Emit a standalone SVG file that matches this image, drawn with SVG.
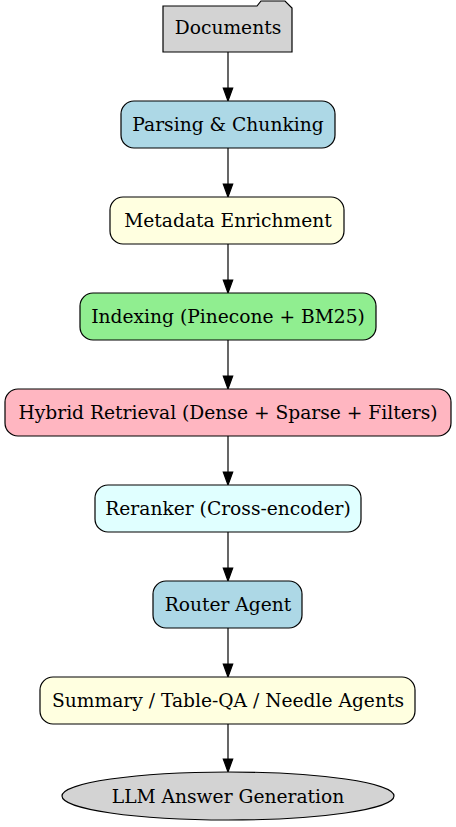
<svg xmlns="http://www.w3.org/2000/svg" width="456" height="827" viewBox="0 0 456 827">
<defs>
<style>
.n{stroke:#000;stroke-width:1.2}
.t{font-family:"DejaVu Serif",serif;font-size:18.67px;fill:#000;text-anchor:middle}
.e{stroke:#000;stroke-width:1.2;fill:none}
.a{fill:#000;stroke:#000;stroke-width:1.2}
</style>
</defs>
<rect width="456" height="827" fill="#fff"/>
<g id="edges">
<line class="e" x1="228" y1="52" x2="228" y2="88"/><polygon class="a" points="223.3,88 232.7,88 228,101"/>
<line class="e" x1="228" y1="148" x2="228" y2="184"/><polygon class="a" points="223.3,184 232.7,184 228,197"/>
<line class="e" x1="228" y1="244" x2="228" y2="280"/><polygon class="a" points="223.3,280 232.7,280 228,293"/>
<line class="e" x1="228" y1="340" x2="228" y2="376"/><polygon class="a" points="223.3,376 232.7,376 228,389"/>
<line class="e" x1="228" y1="436" x2="228" y2="472"/><polygon class="a" points="223.3,472 232.7,472 228,485"/>
<line class="e" x1="228" y1="532" x2="228" y2="568"/><polygon class="a" points="223.3,568 232.7,568 228,581"/>
<line class="e" x1="228" y1="628" x2="228" y2="664"/><polygon class="a" points="223.3,664 232.7,664 228,677"/>
<line class="e" x1="228" y1="724" x2="228" y2="759"/><polygon class="a" points="223.3,759 232.7,759 228,772"/>
</g>
<g id="documents">
<path class="n" fill="#d3d3d3" d="M163,6 L257,6 L261,1 L285,1 L292,8 L292,52 L163,52 Z"/>
<text class="t" x="228" y="34">Documents</text>
</g>
<g id="parsing">
<rect class="n" fill="#add8e6" x="121" y="101" width="214" height="47" rx="13"/>
<text class="t" x="228" y="130.5">Parsing &amp; Chunking</text>
</g>
<g id="metadata">
<rect class="n" fill="#ffffe0" x="110" y="197" width="234" height="47" rx="13"/>
<text class="t" x="228" y="226.5">Metadata Enrichment</text>
</g>
<g id="indexing">
<rect class="n" fill="#90ee90" x="80" y="293" width="296" height="47" rx="13"/>
<text class="t" x="228" y="322.5">Indexing (Pinecone + BM25)</text>
</g>
<g id="hybrid">
<rect class="n" fill="#ffb6c1" x="5" y="389" width="446" height="47" rx="13"/>
<text class="t" x="228" y="418.5">Hybrid Retrieval (Dense + Sparse + Filters)</text>
</g>
<g id="reranker">
<rect class="n" fill="#e0ffff" x="95" y="485" width="266" height="47" rx="13"/>
<text class="t" x="228" y="514.5">Reranker (Cross-encoder)</text>
</g>
<g id="router">
<rect class="n" fill="#add8e6" x="153" y="581" width="149" height="47" rx="13"/>
<text class="t" x="228" y="610.5">Router Agent</text>
</g>
<g id="summary">
<rect class="n" fill="#ffffe0" x="40" y="677" width="375" height="47" rx="13"/>
<text class="t" x="228" y="706.5">Summary / Table-QA / Needle Agents</text>
</g>
<g id="llm">
<ellipse class="n" fill="#d3d3d3" cx="228" cy="796" rx="166" ry="24"/>
<text class="t" x="228" y="802.5">LLM Answer Generation</text>
</g>
</svg>
